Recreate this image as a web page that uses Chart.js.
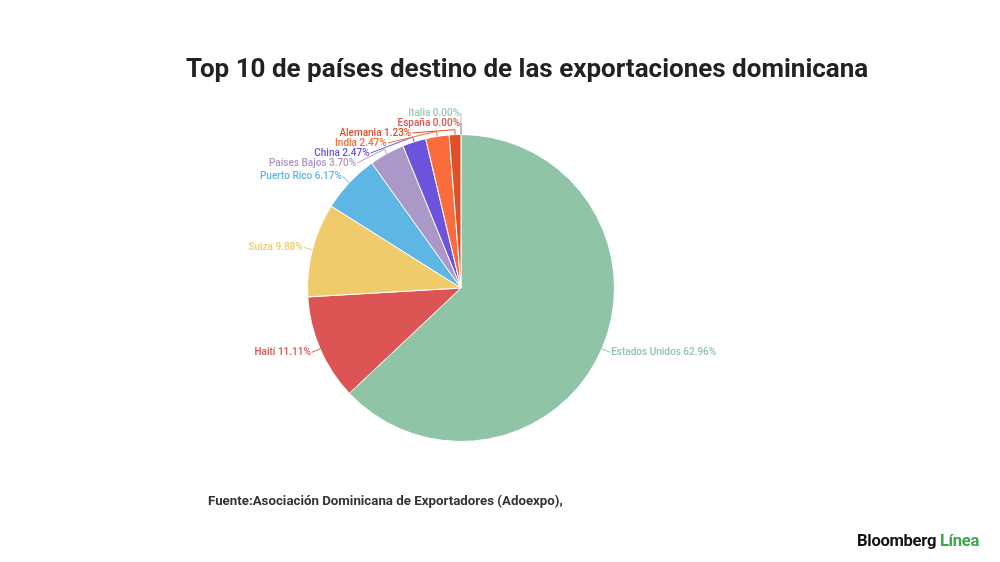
<!DOCTYPE html>
<html>
<head>
<meta charset="utf-8">
<script src="https://cdn.jsdelivr.net/npm/chart.js@4.4.1/dist/chart.umd.min.js"></script>
<style>
  html, body { margin: 0; padding: 0; background: #fff; }
  #wrap { position: relative; width: 1000px; height: 562px; font-family: Roboto, "Noto Sans", sans-serif; }
  #chart { position: absolute; left: 0; top: 0; }
  #title { position: absolute; left: 186px; top: 53px; line-height: 30px; font-size: 26px; font-weight: 700; color: #222; white-space: nowrap; }
  #source { position: absolute; left: 208px; top: 492px; line-height: 18px; font-size: 13.3px; font-weight: 700; color: #333; white-space: nowrap; }
  #logo { position: absolute; left: 857px; top: 531px; line-height: 20px; font-size: 16.6px; font-weight: 700; color: #111; white-space: nowrap; letter-spacing: -0.3px; }
  #logo span { color: #3aa845; }
</style>
</head>
<body>
<div id="wrap">
  <canvas id="chart" width="1000" height="562"></canvas>
  <div id="title">Top 10 de países destino de las exportaciones dominicana</div>
  <div id="source">Fuente:Asociación Dominicana de Exportadores (Adoexpo),</div>
  <div id="logo">Bloomberg <span>Línea</span></div>
</div>
<script>
// data
var countries = ['Estados Unidos', 'Haití', 'Suiza', 'Puerto Rico', 'Países Bajos', 'China', 'India', 'Alemania', 'España', 'Italia'];
var shares = [62.96, 11.11, 9.88, 6.17, 3.70, 2.47, 2.47, 1.23, 0.00, 0.00];
var sliceColors = ['#8fc4a7', '#dc5454', '#efcb6b', '#5db6e4', '#aa98c9', '#6b54db', '#fb6c3c', '#e14f28', '#d9534f', '#9cc8b3'];

// labels placed round the pie with leader lines
var pieLabels = {
    id: 'pieLabels',
    afterDraw: function(chart) {
        var ctx = chart.ctx;
        var meta = chart.getDatasetMeta(0);
        var spacing = 10, labelTop = 113, gap = 9;
        var items = [];
        meta.data.forEach(function(arc, i) {
            var p = arc.getProps(['x', 'y', 'startAngle', 'endAngle', 'outerRadius'], true);
            var mid = (p.startAngle + p.endAngle) / 2;
            var R = p.outerRadius + gap;
            items.push({
                i: i, mid: mid, cx: p.x, cy: p.y, r: p.outerRadius, R: R,
                right: Math.cos(mid) > 1e-6,
                target: p.y + R * Math.sin(mid)
            });
        });

        [true, false].forEach(function(side) {
            var list = items.filter(function(d) { return d.right === side; });
            list.sort(function(a, b) {
                if (Math.abs(a.target - b.target) < 0.5) return b.i - a.i;
                return a.target - b.target;
            });
            var groups = list.map(function(d) { return { items: [d] }; });
            function place(g) {
                var m = 0;
                g.items.forEach(function(d) { m += d.target; });
                m /= g.items.length;
                g.top = Math.max(labelTop, m - (g.items.length - 1) * spacing / 2);
            }
            groups.forEach(place);
            var merged = true;
            while (merged) {
                merged = false;
                for (var k = 0; k < groups.length - 1; k++) {
                    var a = groups[k], b = groups[k + 1];
                    if (a.top + a.items.length * spacing > b.top) {
                        a.items = a.items.concat(b.items);
                        groups.splice(k + 1, 1);
                        place(a);
                        merged = true;
                        break;
                    }
                }
            }
            groups.forEach(function(g) {
                g.items.forEach(function(d, k) { d.ly = g.top + k * spacing; });
            });
        });

        ctx.save();
        ctx.font = '500 10px Roboto, sans-serif';
        ctx.textBaseline = 'middle';
        ctx.lineWidth = 1;
        items.forEach(function(d) {
            var dy = d.ly - d.cy;
            var dx = Math.abs(dy) < d.R ? Math.sqrt(d.R * d.R - dy * dy) : 0;
            var lx = d.right ? d.cx + dx : d.cx - dx;
            var ex = d.cx + d.r * Math.cos(d.mid), ey = d.cy + d.r * Math.sin(d.mid);
            var ox = d.cx + (d.r + 5) * Math.cos(d.mid), oy = d.cy + (d.r + 5) * Math.sin(d.mid);
            var col = sliceColors[d.i];
            ctx.strokeStyle = col;
            ctx.beginPath();
            ctx.moveTo(ex, ey);
            ctx.lineTo(ox, oy);
            ctx.lineTo(lx, d.ly);
            ctx.stroke();
            ctx.fillStyle = col;
            ctx.textAlign = d.right ? 'left' : 'right';
            var txt = countries[d.i] + ' ' + shares[d.i].toFixed(2) + '%';
            ctx.fillText(txt, d.right ? lx + 1 : lx - 1, d.ly);
        });
        ctx.restore();
    }
};

var chart1 = document.getElementById('chart');
var myChart1 = new Chart(chart1, {
    type: 'pie',
    data: {
        labels: countries,
        datasets: [{
            data: shares,
            backgroundColor: sliceColors,
            borderColor: '#ffffff',
            borderWidth: 1
        }]
    },
    options: {
        responsive: false,
        animation: false,
        layout: {
            padding: { left: 200, right: 278, top: 134, bottom: 120 }
        },
        plugins: {
            legend: { display: false },
            tooltip: { enabled: false },
            title: { display: false }
        }
    },
    plugins: [pieLabels]
});
</script>
</body>
</html>
